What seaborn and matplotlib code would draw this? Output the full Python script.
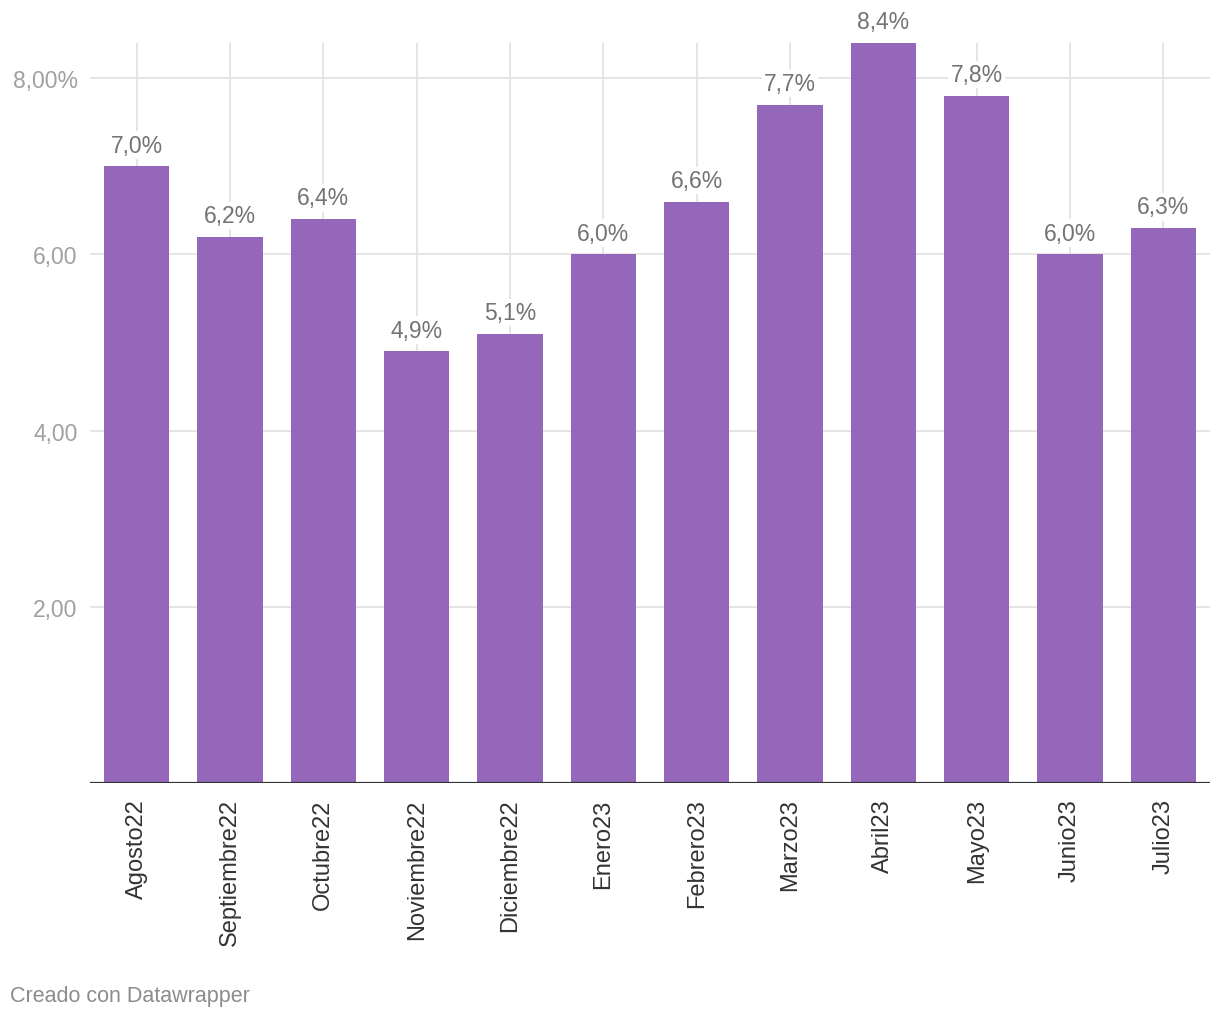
import pandas as pd
import matplotlib
matplotlib.use("Agg")
import matplotlib.pyplot as plt
import seaborn as sns

# datos
meses = ['Agosto22', 'Septiembre22', 'Octubre22', 'Noviembre22', 'Diciembre22', 'Enero23',
         'Febrero23', 'Marzo23', 'Abril23', 'Mayo23', 'Junio23', 'Julio23']
valores = [7.0, 6.2, 6.4, 4.9, 5.1, 6.0, 6.6, 7.7, 8.4, 7.8, 6.0, 6.3]
ticks_y = [2, 4, 6, 8]
etiquetas_y = ['2,00', '4,00', '6,00', '8,00%']

df = pd.DataFrame({'mes': meses, 'valor': valores})

sns.set_style('white')
plt.rcParams['font.family'] = ['Liberation Sans', 'DejaVu Sans']

fig = plt.figure(figsize=(12.2, 10.2), dpi=100)
ax = fig.add_axes([90 / 1220, 1 - 784 / 1020, 1120 / 1220, 740 / 1020])

sns.barplot(data=df, x='mes', y='valor', color='#9467bb', width=0.7, saturation=1,
            linewidth=0, ax=ax, zorder=3)

ax.set_xlim(-0.5, len(meses) - 0.5)
ax.set_ylim(0, 8.4)

# rejilla
for t in ticks_y:
    ax.axhline(t, color='#e3e3e3', lw=1.3, zorder=1)
for i in range(len(meses)):
    ax.axvline(i, color='#e3e3e3', lw=1.3, zorder=1)
ax.axhline(0, color='#333333', lw=1.6, zorder=4)

ax.set_yticks(ticks_y)
ax.set_yticklabels(etiquetas_y)
ax.tick_params(axis='y', length=0, pad=9, labelsize=16.5, labelcolor='#a0a0a0')
ax.tick_params(axis='x', length=0, pad=11, labelsize=17, labelcolor='#333333', rotation=90)
for lbl in ax.get_xticklabels():
    lbl.set_verticalalignment('top')

for i, v in enumerate(valores):
    ax.annotate(f'{v:.1f}%'.replace('.', ','), xy=(i, v), xytext=(0, 7),
                textcoords='offset points', ha='center', va='bottom',
                fontsize=16.5, color='#737373', zorder=5, annotation_clip=False,
                bbox=dict(boxstyle='square,pad=0.1', fc='white', ec='none'))

ax.set_xlabel('')
ax.set_ylabel('')
sns.despine(ax=ax, left=True, bottom=True, top=True, right=True)

fig.text(10 / 1220, 1 - 997 / 1020, 'Creado con Datawrapper', fontsize=15.5,
         color='#8c8c8c', va='center', ha='left')

fig.savefig('out.png', dpi=100, facecolor='white')
